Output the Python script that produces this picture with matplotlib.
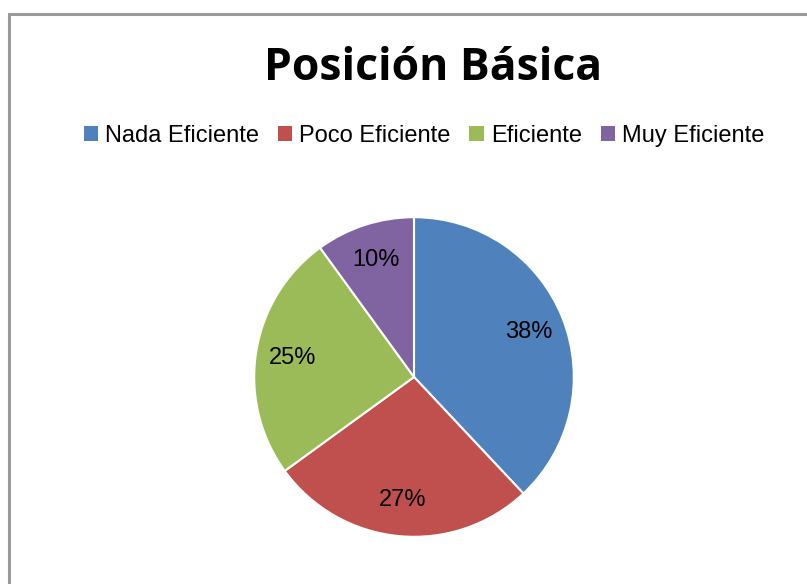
import matplotlib
matplotlib.use("Agg")
import matplotlib.pyplot as plt
from matplotlib.patches import Rectangle

# data
categories = ["Nada Eficiente", "Poco Eficiente", "Eficiente", "Muy Eficiente"]
values = [38, 27, 25, 10]
colors = ["#4F81BD", "#C0504D", "#9BBB59", "#8064A2"]
title = "Posición Básica"

W, H = 807, 584
fig = plt.figure(figsize=(W / 100, H / 100), dpi=100)
fig.patch.set_facecolor("white")

# gray chart-area border (runs off right/bottom edges)
fig.patches.append(Rectangle((9 / W, -0.05), 1.2, 1 - 14 / H + 0.05,
                             transform=fig.transFigure, fill=False,
                             edgecolor="#9a9a9a", linewidth=2.2))

fig.text(433 / W, 1 - 68 / H, title, ha="center", va="center",
         fontsize=32, fontweight="bold", family=["Open Sans", "DejaVu Sans"])

# pie
cx, cy, r = 414, 377, 163
ax = fig.add_axes([(cx - r) / W, (H - cy - r) / H, 2 * r / W, 2 * r / H])
wedges, _, autotexts = ax.pie(
    values, colors=colors, startangle=90, counterclock=False,
    autopct="%1.0f%%", pctdistance=0.77, radius=1,
    wedgeprops=dict(edgecolor="white", linewidth=1.5),
    textprops=dict(fontsize=17, color="black",
                   family=["Liberation Sans", "DejaVu Sans"]))
ax.set_xlim(-1.02, 1.02)
ax.set_ylim(-1.02, 1.02)
ax.set_aspect("equal")
ax.axis("off")

leg = fig.legend(wedges, categories, loc="center", ncol=4,
                 bbox_to_anchor=(424 / W, 1 - 136 / H), frameon=False,
                 handlelength=0.6, handleheight=0.6, handletextpad=0.3,
                 columnspacing=0.8,
                 prop=dict(size=17, family=["Liberation Sans", "DejaVu Sans"]))
for h in leg.legend_handles:
    h.set_edgecolor("none")

fig.savefig("out.png", dpi=100)
